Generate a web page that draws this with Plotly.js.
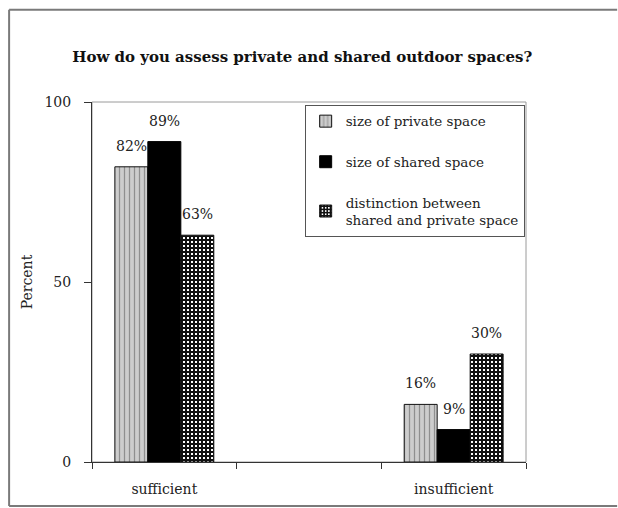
<!DOCTYPE html>
<html>
<head>
<meta charset="utf-8">
<script src="https://cdn.plot.ly/plotly-3.0.1.min.js"></script>
<style>
  html, body { margin: 0; padding: 0; background: #fff; overflow: hidden; }
  #chart { width: 618px; height: 508px; }
</style>
</head>
<body>
<div id="chart"></div>
<script>
// Survey answers, in percent. The blank middle category keeps the two groups apart.
const categories = ['sufficient', ' ', 'insufficient'];
const seriesNames = [
  'size of private space',
  'size of shared space',
  'distinction between<br>shared and private space'
];
const privateSpace = [82, null, 16];
const sharedSpace = [89, null, 9];
const distinction = [63, null, 30];
const yTicks = [0, 50, 100];

const FONT = 'DejaVu Serif, Times New Roman, Liberation Serif, serif';
const values = [privateSpace, sharedSpace, distinction];

const markers = [
  { color: '#c9c9c9', line: { color: '#111', width: 1 },
    pattern: { shape: '|', bgcolor: '#cdcdcd', fgcolor: '#8f8f8f', size: 5, solidity: 0.25 } },
  { color: '#000', line: { color: '#000', width: 1 } },
  { color: '#fff', line: { color: '#111', width: 1 },
    pattern: { shape: '+', bgcolor: '#ffffff', fgcolor: '#111111', size: 4, solidity: 0.75 } }
];

const traces = values.map((v, i) => ({
  type: 'bar',
  name: seriesNames[i],
  x: categories,
  y: v,
  marker: markers[i],
  legendgroup: 'g' + i,
  hoverinfo: 'skip'
}));

// Percentage labels above each bar, taken from the bar values.
const barPx = 33;
const annotations = [];
values.forEach((v, i) => {
  v.forEach((val, j) => {
    if (val === null) return;
    annotations.push({
      x: categories[j], y: val, xref: 'x', yref: 'y',
      text: val + '%', showarrow: false,
      xshift: (i - 1) * barPx, yshift: 11,
      yanchor: 'bottom', xanchor: 'center',
      font: { family: FONT, size: 14, color: '#222' }
    });
  });
});

// Outer chart frame (left, top, bottom edges) and the plot-area outline.
const shapes = [
  { type: 'line', xref: 'paper', yref: 'paper', x0: -0.191, x1: 1.21, y0: 1.256, y1: 1.256,
    line: { color: '#7a7a7a', width: 2 } },
  { type: 'line', xref: 'paper', yref: 'paper', x0: -0.191, x1: -0.191, y0: 1.256, y1: -0.122,
    line: { color: '#7a7a7a', width: 2 } },
  { type: 'line', xref: 'paper', yref: 'paper', x0: -0.191, x1: 1.21, y0: -0.122, y1: -0.122,
    line: { color: '#7a7a7a', width: 2 } },
  { type: 'rect', xref: 'paper', yref: 'paper', x0: 0, x1: 1, y0: 0, y1: 1,
    line: { color: '#9a9a9a', width: 1 }, layer: 'below' }
];

const layout = {
  width: 618, height: 508,
  margin: { l: 92, r: 92, t: 102, b: 46 },
  paper_bgcolor: '#fff', plot_bgcolor: '#fff',
  font: { family: FONT, size: 14, color: '#222' },
  title: {
    text: '<b>How do you assess private and shared outdoor spaces?</b>',
    font: { family: FONT, size: 15, color: '#111' },
    x: 0.489, xref: 'container', xanchor: 'center',
    y: 1 - 57 / 508, yref: 'container', yanchor: 'middle'
  },
  barmode: 'group',
  bargap: 0.316,
  bargroupgap: 0,
  showlegend: true,
  legend: {
    x: 0.49, y: 0.992, xanchor: 'left', yanchor: 'top',
    bordercolor: '#555', borderwidth: 1, bgcolor: '#fff',
    font: { family: FONT, size: 13.5, color: '#222' },
    traceorder: 'grouped', tracegroupgap: 20,
    itemwidth: 30
  },
  xaxis: {
    type: 'category',
    categoryorder: 'array', categoryarray: categories,
    tickson: 'boundaries',
    ticks: 'outside', ticklen: 6, tickcolor: '#333',
    showline: true, linecolor: '#333', linewidth: 1,
    showgrid: false, zeroline: false,
    ticklabelstandoff: 14,
    tickfont: { family: FONT, size: 14, color: '#222' },
    fixedrange: true
  },
  yaxis: {
    range: [0, 100],
    tickvals: yTicks,
    ticks: 'outside', ticklen: 7, tickcolor: '#333',
    showline: true, linecolor: '#333', linewidth: 1,
    showgrid: false, zeroline: false,
    ticklabelstandoff: 10,
    tickfont: { family: FONT, size: 14, color: '#222' },
    title: { text: 'Percent', standoff: 8, font: { family: FONT, size: 14, color: '#222' } },
    fixedrange: true
  },
  annotations: annotations,
  shapes: shapes
};

Plotly.newPlot('chart', traces, layout, { displayModeBar: false, staticPlot: true });
</script>
</body>
</html>
